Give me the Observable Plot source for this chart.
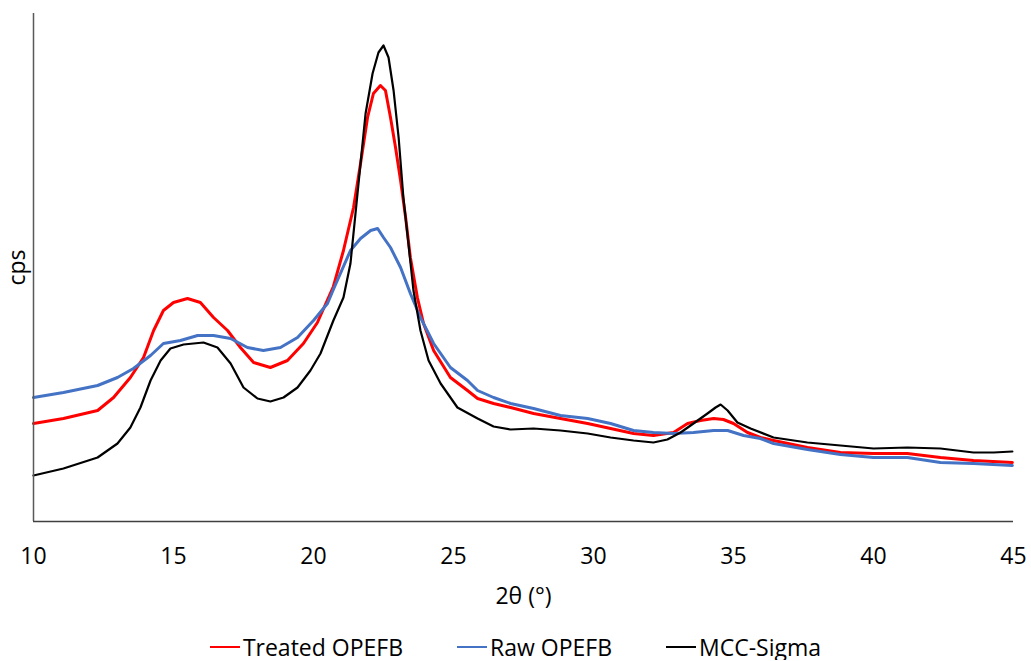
<!DOCTYPE html>
<html>
<head>
<meta charset="utf-8">
<script src="https://cdn.jsdelivr.net/npm/d3@7"></script>
<script src="https://cdn.jsdelivr.net/npm/@observablehq/plot@0.6"></script>
<style>
  html, body { margin: 0; padding: 0; background: #fff; }
  #chart { width: 1031px; }
  .legend { display: flex; justify-content: center; align-items: center; gap: 54px; height: 26px; line-height: 26px;
    font-family: "Open Sans", sans-serif; font-size: 23px; color: #000; }
  .legend .item { display: flex; align-items: center; }
  .legend .sw { display: inline-block; width: 30px; height: 2px; margin-right: 3px; }
</style>
</head>
<body>
<div id="chart"></div>
<script>
// 2θ (°) and intensity (cps, arbitrary units)
const treatedTheta = [10.00, 11.07, 12.29, 12.86, 13.46, 13.93, 14.29, 14.64, 15.00, 15.50, 15.96, 16.43, 16.93, 17.39, 17.86, 18.46, 19.07, 19.64, 20.14, 20.71, 21.07, 21.43, 21.68, 21.93, 22.14, 22.39, 22.57, 22.75, 22.93, 23.11, 23.29, 23.46, 23.71, 23.93, 24.29, 24.89, 25.50, 25.86, 26.43, 27.04, 27.86, 28.82, 29.79, 30.61, 31.43, 32.14, 32.86, 33.36, 33.82, 34.29, 34.64, 35.00, 35.50, 35.96, 36.43, 37.64, 38.82, 40.00, 41.21, 42.39, 43.57, 44.96];
const treatedCps   = [98, 103, 111, 124, 144, 164, 191, 211, 219, 223, 219, 204, 191, 174, 159, 154, 161, 178, 199, 235, 271, 314, 358, 404, 428, 436, 431, 404, 374, 341, 304, 264, 224, 198, 171, 144, 131, 123, 118, 114, 108, 103, 98, 93, 88, 86, 89, 98, 101, 103, 102, 98, 89, 84, 81, 74, 69, 68, 68, 64, 61, 59];

const rawTheta = [10.00, 11.07, 12.29, 13.00, 13.57, 14.18, 14.64, 15.25, 15.86, 16.43, 17.04, 17.64, 18.21, 18.82, 19.43, 20.00, 20.50, 20.71, 21.32, 21.68, 22.04, 22.29, 22.50, 22.75, 23.11, 23.46, 23.82, 24.29, 24.89, 25.50, 25.86, 26.43, 27.04, 27.86, 28.82, 29.79, 30.61, 31.43, 32.14, 32.86, 33.57, 34.29, 34.79, 35.36, 35.96, 36.43, 37.64, 38.82, 40.00, 41.21, 42.39, 43.57, 44.96];
const rawCps   = [124, 129, 136, 144, 153, 166, 178, 181, 186, 186, 183, 174, 171, 174, 184, 201, 218, 232, 271, 283, 291, 293, 284, 274, 254, 228, 204, 178, 154, 141, 131, 124, 118, 113, 106, 103, 98, 91, 89, 88, 89, 91, 91, 86, 83, 78, 72, 67, 64, 64, 59, 58, 56];

const mccTheta = [10.00, 11.07, 12.29, 13.00, 13.46, 13.82, 14.18, 14.54, 14.89, 15.36, 16.07, 16.57, 17.04, 17.50, 18.00, 18.46, 18.93, 19.43, 19.89, 20.25, 20.71, 21.07, 21.32, 21.50, 21.68, 21.86, 22.11, 22.32, 22.50, 22.68, 22.86, 23.04, 23.21, 23.39, 23.57, 23.82, 24.11, 24.54, 25.14, 25.86, 26.43, 27.04, 27.86, 28.82, 29.79, 30.61, 31.43, 32.14, 32.64, 33.11, 33.57, 34.07, 34.36, 34.54, 34.79, 35.14, 35.61, 36.43, 37.64, 38.82, 40.00, 41.21, 42.39, 43.57, 44.29, 44.96];
const mccCps   = [46, 53, 64, 78, 94, 114, 141, 161, 173, 177, 179, 174, 158, 134, 123, 120, 124, 134, 151, 168, 201, 224, 258, 308, 358, 408, 448, 469, 476, 464, 431, 384, 324, 278, 231, 191, 161, 138, 114, 103, 95, 92, 93, 91, 88, 84, 81, 79, 82, 89, 98, 108, 114, 117, 111, 99, 93, 84, 79, 76, 73, 74, 73, 69, 69, 70];

const xTicks = [10, 15, 20, 25, 30, 35, 40, 45];
const seriesNames = ["Treated OPEFB", "Raw OPEFB", "MCC-Sigma"];
const seriesColors = ["#FF0000", "#4472C4", "#000000"];

const toRows = (name, xs, ys) => xs.map((x, i) => ({series: name, theta: x, cps: ys[i]}));
const treated = toRows(seriesNames[0], treatedTheta, treatedCps);
const raw = toRows(seriesNames[1], rawTheta, rawCps);
const mcc = toRows(seriesNames[2], mccTheta, mccCps);

const chart = Plot.plot({
  width: 1031,
  height: 634,
  marginLeft: 33,
  marginRight: 18,
  marginTop: 13,
  marginBottom: 113,
  style: {fontFamily: "'Open Sans', sans-serif", fontSize: "23px", color: "#000", background: "#fff"},
  x: {domain: [10, 45]},
  y: {domain: [0, 508], axis: null},
  marks: [
    Plot.line(treated, {x: "theta", y: "cps", stroke: seriesColors[0], strokeWidth: 3, curve: "linear"}),
    Plot.line(raw, {x: "theta", y: "cps", stroke: seriesColors[1], strokeWidth: 3, curve: "linear"}),
    Plot.line(mcc, {x: "theta", y: "cps", stroke: seriesColors[2], strokeWidth: 2.2, curve: "linear"}),
    Plot.ruleX([10], {stroke: "#595959", strokeWidth: 1.5}),
    Plot.ruleY([0], {stroke: "#404040", strokeWidth: 1.5}),
    Plot.axisX({ticks: xTicks, tickSize: 0, tickPadding: 26, fontSize: 23, label: null}),
    Plot.text(["2θ (°)"], {frameAnchor: "bottom", dy: 75, lineAnchor: "middle", text: d => d, fontSize: 23}),
    Plot.text(["cps"], {frameAnchor: "left", dx: -15.5, rotate: -90, textAnchor: "middle", lineAnchor: "middle", text: d => d, fontSize: 23})
  ]
});
chart.style.display = "block";
document.getElementById("chart").appendChild(chart);

const legend = document.createElement("div");
legend.className = "legend";
seriesNames.forEach((name, i) => {
  const item = document.createElement("div");
  item.className = "item";
  const sw = document.createElement("span");
  sw.className = "sw";
  sw.style.background = seriesColors[i];
  const label = document.createElement("span");
  label.textContent = name;
  item.appendChild(sw);
  item.appendChild(label);
  legend.appendChild(item);
});
document.getElementById("chart").appendChild(legend);
</script>
</body>
</html>
